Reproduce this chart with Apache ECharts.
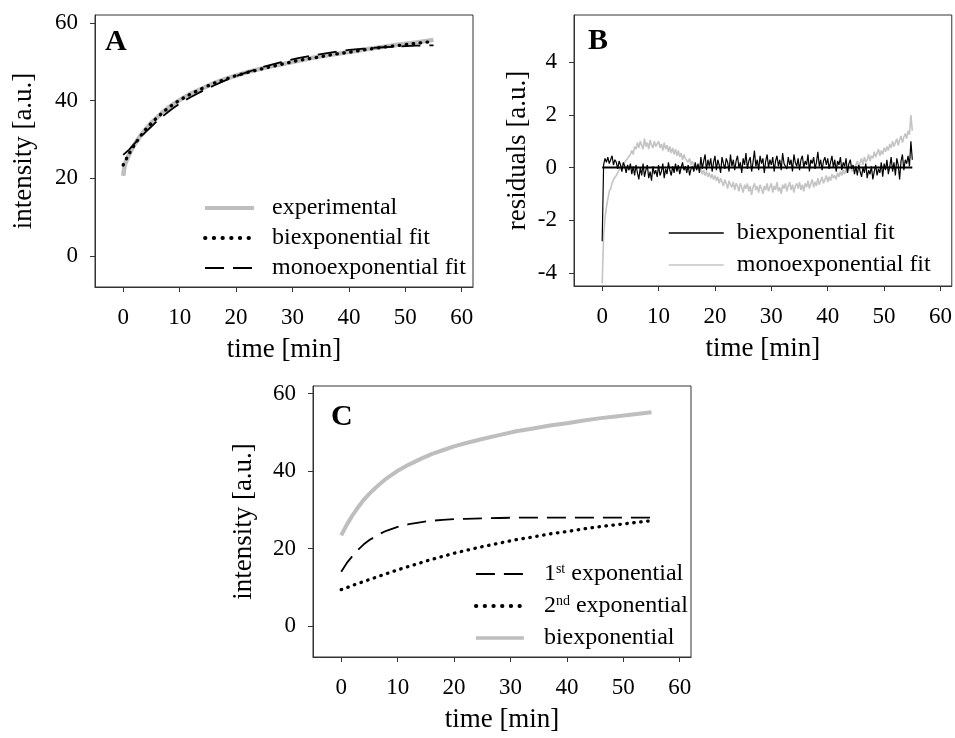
<!DOCTYPE html>
<html><head><meta charset="utf-8">
<script src="https://cdn.jsdelivr.net/npm/echarts@6/dist/echarts.min.js"></script>
<style>html,body{margin:0;padding:0;background:#fff}#c{width:955px;height:738px}</style>
</head><body><div id="c"></div>
<script>
const FONT = '"Liberation Serif","Times New Roman",serif';

// tick labels
const xTicks = [0, 10, 20, 30, 40, 50, 60];
const yTicksIntensity = [0, 20, 40, 60];
const yTicksResid = [-4, -2, 0, 2, 4];

// Panel A: experimental curve
const expT = [0, 0.15, 0.3, 0.5, 0.75, 1, 1.5, 2, 3, 4, 5, 6, 7, 8, 9, 10, 12, 14, 16, 18, 20, 22, 25, 28, 31, 34, 37, 40, 43, 46, 49, 52, 55];
const expY = [20.6, 22.3, 23.4, 24.3, 25.1, 26.0, 27.4, 28.7, 30.8, 32.6, 34.3, 35.6, 37.0, 38.1, 39.2, 40.1, 41.8, 43.1, 44.4, 45.5, 46.4, 47.3, 48.4, 49.3, 50.2, 51.1, 51.8, 52.5, 53.2, 53.8, 54.4, 54.9, 55.6];

// fit curves (panels A and C)
const fitT = [0, 1, 2, 3, 4, 5, 6, 7, 8, 9, 10, 12, 14, 16, 18, 20, 22, 25, 28, 31, 34, 37, 40, 43, 46, 49, 52, 55];
const biexpY = [23.4, 26.2, 28.6, 30.7, 32.6, 34.2, 35.6, 36.9, 38.1, 39.1, 40.1, 41.7, 43.1, 44.4, 45.4, 46.4, 47.2, 48.3, 49.3, 50.3, 51.0, 51.8, 52.4, 53.1, 53.7, 54.2, 54.7, 55.2];
const monoY = [26.0, 27.3, 28.9, 30.4, 31.9, 33.3, 34.7, 35.9, 37.1, 38.2, 39.2, 40.9, 42.4, 43.8, 45.1, 46.3, 47.3, 48.7, 49.9, 50.9, 51.7, 52.4, 53.0, 53.4, 53.7, 53.9, 54.1, 54.2];
const firstExpY = [14.0, 16.3, 18.1, 19.7, 21.1, 22.2, 23.1, 23.9, 24.6, 25.1, 25.6, 26.3, 26.8, 27.2, 27.4, 27.6, 27.7, 27.8, 27.9, 28.0, 28.0, 28.0, 28.0, 28.0, 28.0, 28.0, 28.0, 28.0];
const secondExpY = [9.4, 9.9, 10.5, 11.0, 11.5, 12.0, 12.5, 13.0, 13.5, 14.0, 14.5, 15.4, 16.3, 17.2, 18.0, 18.8, 19.5, 20.5, 21.4, 22.3, 23.0, 23.8, 24.4, 25.1, 25.7, 26.2, 26.7, 27.2];

// Panel B: residuals sampled every 0.25 min from t = 0
const residStep = 0.25;
const residBi = [
 -2.8, 0.1, 0.35, 0.2, 0.4, 0.15, 0.3, 0.45, 0.1, 0.3, 0.2, -0.05, 0.25, 0.1, -0.15, 0.2, 0.05, -0.2, 0.1, -0.1,
 0.15, -0.25, 0.05, -0.3, 0.1, -0.2, -0.45, 0.0, -0.3, 0.15, -0.35, -0.1, 0.1, -0.4, -0.15, -0.5, 0.05, -0.25, -0.1, -0.35,
 0.1, -0.3, -0.15, 0.15, -0.4, -0.05, -0.25, 0.2, -0.1, -0.3, 0.05, -0.2, 0.15, -0.15, 0.1, -0.25, 0.0, 0.2, -0.1, 0.05,
 -0.2, 0.1, -0.3, -0.05, 0.05, -0.15, 0.2, -0.1, 0.15, -0.2, 0.4, -0.05, 0.25, 0.5, -0.1, 0.3, 0.05, 0.35, -0.15, 0.2,
 0.45, -0.1, 0.3, 0.1, -0.2, 0.4, 0.15, -0.05, 0.35, 0.2, -0.15, 0.5, 0.05, 0.3, -0.1, 0.25, 0.45, 0.0, 0.2, -0.2,
 0.35, 0.1, 0.55, -0.05, 0.25, 0.4, -0.15, 0.2, 0.65, 0.05, 0.3, -0.1, 0.45, 0.15, 0.35, -0.2, 0.25, 0.5, 0.0, 0.3,
 0.1, 0.4, -0.15, 0.25, 0.45, 0.05, 0.3, -0.1, 0.55, 0.15, 0.2, -0.05, 0.4, 0.1, 0.3, -0.15, 0.5, 0.2, 0.05, 0.35,
 -0.1, 0.3, 0.45, 0.0, 0.25, 0.1, 0.5, -0.15, 0.3, 0.15, 0.4, -0.05, 0.2, 0.6, 0.05, 0.3, -0.1, 0.25, 0.4, 0.1,
 0.35, -0.05, 0.2, 0.45, 0.0, 0.3, -0.15, 0.25, 0.1, 0.4, -0.1, 0.2, 0.05, 0.35, -0.2, 0.15, 0.3, -0.05, 0.1, -0.25,
 0.05, -0.3, 0.1, -0.15, -0.35, 0.0, -0.2, 0.15, -0.4, -0.1, -0.25, 0.05, -0.45, -0.15, 0.1, -0.3, -0.05, -0.2, 0.2, -0.35,
 0.15, -0.1, 0.3, -0.25, 0.05, 0.4, -0.15, 0.2, -0.3, 0.35, 0.1, -0.45, 0.25, 0.5, -0.1, 0.3, 0.15, 0.45, 0.05, 1.0,
 0.3
];
const residMono = [
 -4.4, -2.6, -1.9, -1.5, -1.2, -0.9, -0.8, -0.6, -0.45, -0.5, -0.3, -0.2, -0.1, -0.15, 0.05, 0.1, 0.2, 0.15, 0.35, 0.3,
 0.5, 0.65, 0.5, 0.8, 0.7, 0.95, 0.75, 1.0, 0.85, 0.7, 1.1, 0.8, 0.95, 0.7, 1.05, 0.85, 0.75, 1.0, 0.8, 0.9,
 1.0, 0.75, 0.9, 0.65, 0.95, 0.7, 0.85, 0.6, 0.8, 0.55, 0.75, 0.5, 0.7, 0.45, 0.65, 0.4, 0.55, 0.3, 0.5, 0.35,
 0.4, 0.2, 0.35, 0.1, 0.25, 0.0, 0.15, -0.1, 0.05, -0.15, -0.05, -0.25, -0.1, -0.3, -0.15, -0.35, -0.2, -0.4, -0.25, -0.45,
 -0.3, -0.5, -0.35, -0.6, -0.4, -0.55, -0.7, -0.45, -0.6, -0.8, -0.5, -0.65, -0.75, -0.55, -0.85, -0.6, -0.7, -0.9, -0.6, -0.75,
 -0.95, -0.65, -0.8, -0.6, -0.9, -0.7, -1.05, -0.75, -0.6, -0.85, -0.7, -0.95, -0.65, -0.8, -1.0, -0.7, -0.85, -0.6, -0.9, -0.75,
 -0.6, -0.95, -0.7, -0.85, -0.55, -0.9, -0.75, -1.0, -0.65, -0.8, -0.6, -0.9, -0.7, -0.55, -0.85, -0.65, -0.95, -0.7, -0.6, -0.8,
 -0.55, -0.85, -0.65, -0.9, -0.6, -0.75, -0.5, -0.8, -0.6, -0.45, -0.75, -0.55, -0.7, -0.4, -0.65, -0.5, -0.35, -0.6, -0.45, -0.3,
 -0.55, -0.35, -0.5, -0.25, -0.4, -0.3, -0.45, -0.2, -0.35, -0.15, -0.3, -0.1, -0.25, 0.0, -0.2, -0.05, 0.05, -0.15, 0.1, -0.05,
 0.1, 0.25, 0.0, 0.2, 0.35, 0.1, 0.4, 0.2, 0.3, 0.5, 0.25, 0.45, 0.35, 0.6, 0.4, 0.55, 0.7, 0.45, 0.65, 0.5,
 0.75, 0.6, 0.8, 0.65, 0.9, 0.75, 1.0, 0.8, 0.95, 1.1, 0.85, 1.05, 1.2, 0.95, 1.15, 1.3, 1.1, 1.4, 1.25, 2.0,
 1.4
];
const zeroT = [0, 55];
const zeroY = [0, 0];

function pairs(xs, ys) { return ys.map((y, i) => [xs[i], y]); }
function stepPairs(step, ys) { return ys.map((y, i) => [i * step, y]); }

const grids = [
  { left: 95, top: 15, width: 378, height: 272 },
  { left: 574, top: 15, width: 378, height: 271 },
  { left: 313, top: 386, width: 378, height: 271 }
];

function xAxis(gi) {
  return {
    type: 'value', gridIndex: gi, min: -5, max: 62,
    name: 'time [min]', nameLocation: 'middle', nameGap: 49,
    nameTextStyle: { fontFamily: FONT, fontSize: 27, color: '#000' },
    axisLine: { show: true, onZero: false, lineStyle: { color: '#333', width: 1 } },
    axisTick: { show: true, inside: false, length: 5, customValues: xTicks, lineStyle: { color: '#333', width: 1 } },
    axisLabel: { customValues: xTicks, margin: 19, fontFamily: FONT, fontSize: 23, color: '#000' },
    splitLine: { show: false }
  };
}
function yAxis(gi, min, max, ticks, name, gap) {
  return {
    type: 'value', gridIndex: gi, min: min, max: max,
    name: name, nameLocation: 'middle', nameGap: gap,
    nameTextStyle: { fontFamily: FONT, fontSize: 27, color: '#000' },
    axisLine: { show: true, onZero: false, lineStyle: { color: '#333', width: 1 } },
    axisTick: { show: true, inside: false, length: 5, customValues: ticks, lineStyle: { color: '#333', width: 1 } },
    axisLabel: { customValues: ticks, margin: 17, fontFamily: FONT, fontSize: 23, color: '#000' },
    splitLine: { show: false }
  };
}

function line(name, xi, data, style) {
  return Object.assign({
    name: name, type: 'line', xAxisIndex: xi, yAxisIndex: xi, data: data,
    showSymbol: false, symbol: 'none', smooth: false, silent: true, animation: false
  }, style);
}

const GRAY = '#bebebe';
const legendText = (lh) => ({ fontFamily: FONT, fontSize: 24, color: '#000', lineHeight: lh });
const legendSymbolHidden = { opacity: 0, borderWidth: 0 };
const DOTS = [0.5, 6.5];
const LEGEND_DOTS = [0.5, 8.2];
const DASH = [19, 9];

const option = {
  backgroundColor: '#fff',
  animation: false,
  title: [
    { text: 'A', left: 105, top: 27, padding: 0, textStyle: { fontFamily: FONT, fontSize: 30, fontWeight: 'bold', color: '#000' } },
    { text: 'B', left: 588, top: 26, padding: 0, textStyle: { fontFamily: FONT, fontSize: 30, fontWeight: 'bold', color: '#000' } },
    { text: 'C', left: 331, top: 402, padding: 0, textStyle: { fontFamily: FONT, fontSize: 30, fontWeight: 'bold', color: '#000' } }
  ],
  grid: grids.map(g => Object.assign({ show: true, borderColor: '#333', borderWidth: 1, backgroundColor: 'transparent', containLabel: false }, g)),
  xAxis: [xAxis(0), xAxis(1), xAxis(2)],
  yAxis: [
    yAxis(0, -8, 62, yTicksIntensity, 'intensity [a.u.]', 58),
    yAxis(1, -4.5, 5.8, yTicksResid, 'residuals [a.u.]', 43),
    yAxis(2, -8, 62, yTicksIntensity, 'intensity [a.u.]', 56)
  ],
  legend: [
    {
      data: [
        { name: 'A:experimental', lineStyle: { width: 4 } },
        { name: 'A:biexponential fit', lineStyle: { width: 3.8, type: LEGEND_DOTS } },
        { name: 'A:monoexponential fit', lineStyle: { width: 2 } }
      ],
      itemStyle: legendSymbolHidden,
      orient: 'vertical', left: 203, top: 196, padding: 0, itemGap: 6,
      itemWidth: 49, itemHeight: 14, selectedMode: false,
      formatter: n => n.slice(2),
      textStyle: Object.assign(legendText(24), { padding: [0, 0, 0, 13] })
    },
    {
      data: [
        { name: 'B:biexponential fit', lineStyle: { width: 1.5 } },
        { name: 'B:monoexponential fit', lineStyle: { width: 1.5 } }
      ],
      itemStyle: legendSymbolHidden,
      orient: 'vertical', left: 668, top: 221, padding: 0, itemGap: 8,
      itemWidth: 55, itemHeight: 14, selectedMode: false,
      formatter: n => n.slice(2),
      textStyle: Object.assign(legendText(24), { padding: [0, 0, 0, 8] })
    },
    {
      data: [
        { name: 'C:1st exponential', lineStyle: { width: 2 } },
        { name: 'C:2nd exponential', lineStyle: { width: 3.8, type: LEGEND_DOTS } },
        { name: 'C:biexponential', lineStyle: { width: 3.5 } }
      ],
      itemStyle: legendSymbolHidden,
      orient: 'vertical', left: 474, top: 562, padding: 0, itemGap: 8,
      itemWidth: 48, itemHeight: 14, selectedMode: false,
      formatter: function (n) {
        if (n === 'C:1st exponential') return '1{s|st} exponential';
        if (n === 'C:2nd exponential') return '2{s|nd} exponential';
        return n.slice(2);
      },
      textStyle: Object.assign(legendText(24), {
        padding: [0, 0, 0, 15],
        rich: { s: { fontFamily: FONT, fontSize: 14, color: '#000', verticalAlign: 'top', lineHeight: 14 } }
      })
    }
  ],
  series: [
    // Panel A
    line('A:experimental', 0, pairs(expT, expY), { lineStyle: { color: GRAY, width: 4.5 }, itemStyle: { color: GRAY } }),
    line('A:biexponential fit', 0, pairs(fitT, biexpY), { lineStyle: { color: '#000', width: 3.3, type: DOTS, cap: 'round' }, itemStyle: { color: '#000' } }),
    line('A:monoexponential fit', 0, pairs(fitT, monoY), { lineStyle: { color: '#000', width: 1.8, type: DASH }, itemStyle: { color: '#000' } }),
    // Panel B
    line('B:monoexponential fit', 1, stepPairs(residStep, residMono), { lineStyle: { color: '#c4c4c4', width: 1.6 }, itemStyle: { color: '#c4c4c4' } }),
    line('B:biexponential fit', 1, stepPairs(residStep, residBi), { lineStyle: { color: '#000', width: 1.2 }, itemStyle: { color: '#000' } }),
    line('B:zero', 1, pairs(zeroT, zeroY), { lineStyle: { color: '#000', width: 2 } }),
    // Panel C
    line('C:1st exponential', 2, pairs(fitT, firstExpY), { lineStyle: { color: '#000', width: 1.8, type: DASH }, itemStyle: { color: '#000' } }),
    line('C:2nd exponential', 2, pairs(fitT, secondExpY), { lineStyle: { color: '#000', width: 3.3, type: DOTS, cap: 'round' }, itemStyle: { color: '#000' } }),
    line('C:biexponential', 2, pairs(fitT, biexpY), { lineStyle: { color: GRAY, width: 4 }, itemStyle: { color: GRAY } })
  ]
};

const chart = echarts.init(document.getElementById('c'), null, { renderer: 'canvas' });
chart.setOption(option);
</script>
</body></html>
